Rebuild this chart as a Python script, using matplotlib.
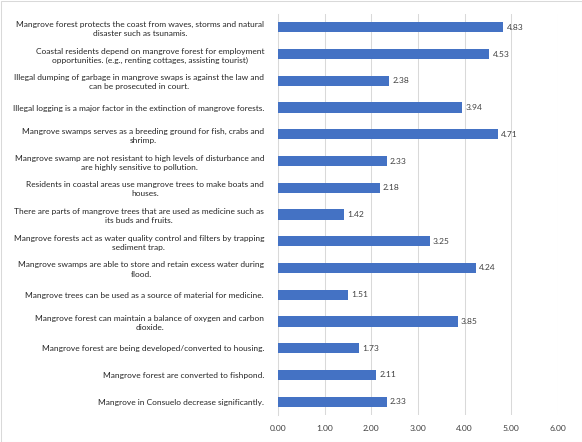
import matplotlib
matplotlib.use("Agg")
import matplotlib.pyplot as plt
from matplotlib.patches import Rectangle

categories = [
    "Mangrove forest protects the coast from waves, storms and natural\ndisaster such as tsunamis.",
    "Coastal residents depend on mangrove forest for employment\nopportunities. (e.g., renting cottages, assisting tourist)",
    "Illegal dumping of garbage in mangrove swaps is against the law and\ncan be prosecuted in court.",
    "Illegal logging is a major factor in the extinction of mangrove forests.",
    "Mangrove swamps serves as a breeding ground for fish, crabs and\nshrimp.",
    "Mangrove swamp are not resistant to high levels of disturbance and\nare highly sensitive to pollution.",
    "Residents in coastal areas use mangrove trees to make boats and\nhouses.",
    "There are parts of mangrove trees that are used as medicine such as\nits buds and fruits.",
    "Mangrove forests act as water quality control and filters by trapping\nsediment trap.",
    "Mangrove swamps are able to store and retain excess water during\nflood.",
    "Mangrove trees can be used as a source of material for medicine.",
    "Mangrove forest can maintain a balance of oxygen and carbon\ndioxide.",
    "Mangrove forest are being developed/converted to housing.",
    "Mangrove forest are converted to fishpond.",
    "Mangrove in Consuelo decrease significantly.",
]
values = [4.83, 4.53, 2.38, 3.94, 4.71, 2.33, 2.18, 1.42, 3.25, 4.24, 1.51, 3.85, 1.73, 2.11, 2.33]
xticks = [0, 1, 2, 3, 4, 5, 6]

plt.rcParams['font.family'] = ['Lato', 'DejaVu Sans']

fig = plt.figure(figsize=(5.82, 4.42), dpi=100)
ax = fig.add_axes([278/582, 1 - 415/442, (558-278)/582, (415-14)/442])

n = len(categories)
ypos = list(range(n))
ax.barh(ypos, values, height=0.38, color='#4472C4', zorder=3)
ax.set_ylim(n - 0.5, -0.5)
ax.set_xlim(0, 6)
ax.set_xticks(xticks)
ax.set_xticklabels([f"{t:.2f}" for t in xticks], fontsize=6.1, color='#404040')
ax.set_yticks(ypos)
ax.set_yticklabels(categories, fontsize=6.05, color='#262626', multialignment='center',
                   linespacing=1.35)
ax.tick_params(axis='both', length=0, pad=7)
ax.tick_params(axis='y', pad=10)
ax.grid(axis='x', color='#D9D9D9', linewidth=0.75, zorder=0)
for s in ['top', 'right', 'bottom']:
    ax.spines[s].set_visible(False)
ax.spines['left'].set_color('#D9D9D9')
ax.spines['left'].set_linewidth(0.75)

for y, v in zip(ypos, values):
    ax.text(v + 0.07, y, f"{v:.2f}", va='center', ha='left', fontsize=6.1, color='#404040')

fig.patches.append(Rectangle((0.5/582, 0.5/442), 1 - 1/582, 1 - 1/442, transform=fig.transFigure,
                             fill=False, edgecolor='#D9D9D9', linewidth=0.75))

fig.savefig('out.png', dpi=100)
